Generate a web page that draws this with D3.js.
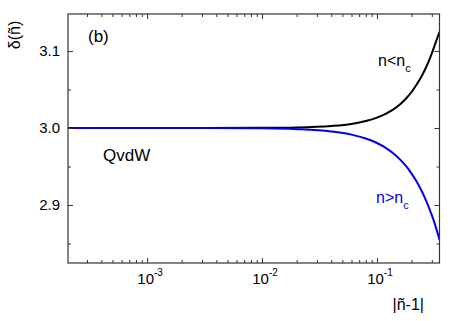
<!DOCTYPE html>
<html>
<head>
<meta charset="utf-8">
<script src="https://cdn.jsdelivr.net/npm/d3@7"></script>
<style>
  body { margin: 0; background: #fff; }
  text { font-family: "Liberation Sans", Arial, sans-serif; }
</style>
</head>
<body>
<div id="chart"></div>
<script>
// |n~-1| values and delta(n~) for both branches
let xVals = [0.0002, 0.001, 0.003, 0.01, 0.02, 0.04, 0.06, 0.08, 0.10, 0.12, 0.14, 0.16, 0.18, 0.20, 0.22, 0.24, 0.26, 0.28, 0.30, 0.32, 0.35];
let belowVals = [3.000, 3.000, 3.000, 3.0002, 3.0007, 3.0026, 3.0053, 3.009, 3.0134, 3.0186, 3.0245, 3.0312, 3.0386, 3.0467, 3.0559, 3.0648, 3.0749, 3.0855, 3.0969, 3.1085, 3.125];
let aboveVals = [3.000, 3.000, 2.9999, 2.9995, 2.9985, 2.9955, 2.9914, 2.9863, 2.9805, 2.9739, 2.9666, 2.9586, 2.950, 2.9408, 2.9311, 2.9208, 2.910, 2.8987, 2.8868, 2.8745, 2.855];

let xMajor = [0.001, 0.01, 0.1];
let xExp = ["-3", "-2", "-1"];
let yMajor = [2.9, 3.0, 3.1];
let yMinor = [2.85, 2.95, 3.05];

let svgWidth = 454;
let svgHeight = 321;
let margin = { top: 14, right: 14.5, bottom: 58, left: 68 };
let width = svgWidth - margin.left - margin.right;
let height = svgHeight - margin.top - margin.bottom;

let svg = d3.select("#chart")
  .append("svg")
  .attr("width", svgWidth)
  .attr("height", svgHeight);

let chart = svg.append("g")
  .attr("transform", "translate(" + margin.left + "," + margin.top + ")");

let x = d3.scaleLog().domain([0.000205, 0.35]).range([0, width]);
let y = d3.scaleLinear().domain([2.8247, 3.148]).range([height, 0]);

// minor log ticks (2..9 x 10^k) inside the domain
let xMinor = [];
[-4, -3, -2, -1].forEach(function(k) {
  for (let m = 2; m <= 9; m++) {
    let v = m * Math.pow(10, k);
    if (v > x.domain()[0] && v < x.domain()[1]) xMinor.push(v);
  }
});

let line = d3.line()
  .x(function(d) { return x(d[0]); })
  .y(function(d) { return y(d[1]); })
  .curve(d3.curveMonotoneX);

chart.append("clipPath").attr("id", "clip")
  .append("rect").attr("width", width).attr("height", height);

let curves = chart.append("g").attr("clip-path", "url(#clip)");

curves.append("path")
  .datum(d3.zip(xVals, belowVals))
  .attr("d", line)
  .attr("fill", "none")
  .attr("stroke", "#000")
  .attr("stroke-width", 2);

curves.append("path")
  .datum(d3.zip(xVals, aboveVals))
  .attr("d", line)
  .attr("fill", "none")
  .attr("stroke", "#0000ee")
  .attr("stroke-width", 2);

// axes with inward ticks on all four sides
function addAxis(axis, vals, size, tx, ty) {
  let g = chart.append("g")
    .attr("transform", "translate(" + tx + "," + ty + ")")
    .call(axis.tickValues(vals).tickSizeInner(-size).tickSizeOuter(0).tickFormat(""));
  g.select(".domain").remove();
  g.selectAll("line").attr("stroke", "#333");
}

addAxis(d3.axisBottom(x), xMajor, 5, 0, height);
addAxis(d3.axisBottom(x), xMinor, 3, 0, height);
addAxis(d3.axisTop(x), xMajor, 5, 0, 0);
addAxis(d3.axisTop(x), xMinor, 3, 0, 0);
addAxis(d3.axisLeft(y), yMajor, 5, 0, 0);
addAxis(d3.axisLeft(y), yMinor, 3, 0, 0);
addAxis(d3.axisRight(y), yMajor, 5, width, 0);
addAxis(d3.axisRight(y), yMinor, 3, width, 0);

chart.append("rect")
  .attr("width", width)
  .attr("height", height)
  .attr("fill", "none")
  .attr("stroke", "#333")
  .attr("stroke-width", 1.2);

// tick labels
chart.selectAll(".ylab")
  .data(yMajor)
  .enter().append("text")
  .attr("x", -8)
  .attr("y", function(d) { return y(d); })
  .attr("dy", "0.36em")
  .attr("text-anchor", "end")
  .attr("font-size", 15)
  .text(function(d) { return d.toFixed(1); });

let xl = chart.selectAll(".xlab")
  .data(xMajor)
  .enter().append("text")
  .attr("x", function(d) { return x(d) + 3; })
  .attr("y", height + 21)
  .attr("text-anchor", "middle")
  .attr("font-size", 15);
xl.append("tspan").text("10");
xl.append("tspan")
  .attr("font-size", 10)
  .attr("dy", -8)
  .text(function(d, i) { return xExp[i]; });

// axis titles
chart.append("text")
  .attr("x", 356)
  .attr("y", 296)
  .attr("text-anchor", "end")
  .attr("font-size", 16)
  .text("|ñ-1|");

svg.append("text")
  .attr("transform", "translate(20,35) rotate(-90)")
  .attr("text-anchor", "middle")
  .attr("font-size", 16)
  .text("δ(ñ)");

// annotations
svg.append("text").attr("x", 88).attr("y", 42).attr("font-size", 17).text("(b)");
svg.append("text").attr("x", 103).attr("y", 161).attr("font-size", 17).text("QvdW");

let lo = svg.append("text").attr("x", 378).attr("y", 66).attr("font-size", 16);
lo.append("tspan").text("n<n");
lo.append("tspan").attr("font-size", 11).attr("dy", 6).text("c");

let hi = svg.append("text").attr("x", 376).attr("y", 203).attr("font-size", 16).attr("fill", "#0000ee");
hi.append("tspan").text("n>n");
hi.append("tspan").attr("font-size", 11).attr("dy", 6).text("c");
</script>
</body>
</html>
